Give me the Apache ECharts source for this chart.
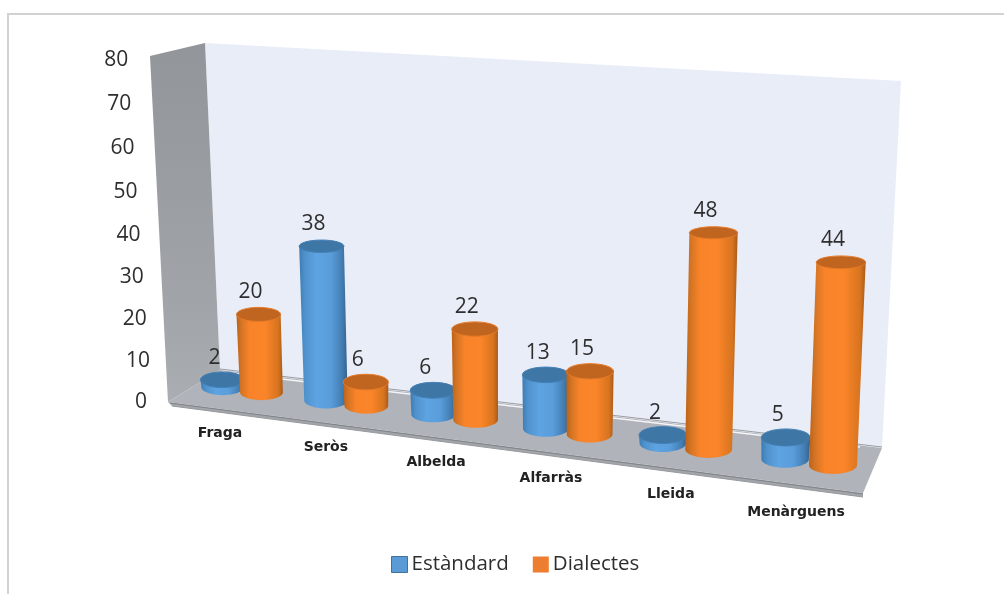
<!DOCTYPE html>
<html>
<head>
<meta charset="utf-8">
<style>html,body{margin:0;padding:0;background:#fff;overflow:hidden;}#c{width:1004px;height:594px;filter:blur(0.45px);}</style>
<script src="https://cdn.jsdelivr.net/npm/echarts@6/dist/echarts.min.js"></script>
</head>
<body>
<div id="c"></div>
<script>
const categories = ['Fraga', 'Seròs', 'Albelda', 'Alfarràs', 'Lleida', 'Menàrguens'];
const estandard = [2, 38, 6, 13, 2, 5];
const dialectes = [20, 6, 22, 15, 48, 44];
const yTicks = [0, 10, 20, 30, 40, 50, 60, 70, 80];

const FONT = '"Open Sans", "Noto Sans", sans-serif';
const TEXT = '#2e2e2e';
const G = { left: 168, top: 56, width: 695, height: 346 };
const YMAX = 80;

// perspective of the 3D floor: category position -> screen x, floor line, vertical scale
function persX(i) { return 242 + 101.96 * i / (1 - 0.02017 * i); }
function floorY(x) { return 392 + 0.1276 * (x - 260); }
function unitPx(x) { return 4.02 + 0.58 * (x - 260) / 572; }
function heightPx(val, x) { return 0.94 * val * unitPx(x) / (1 - 0.0014 * val); }
function leanOf(x) { return (x - 540) / 300 * 0.04; }
function capRy(y) { return 6 + (y - 230) * 0.012; }

function barRender(side, c) {
  return function (params, api) {
    const i = api.value(0), v = api.value(1);
    const p0 = api.coord([i, 0]), p1 = api.coord([i, v]);
    const band = api.size([1, 0])[0];
    const pos = (p0[0] + side * 0.19 * band - G.left) / band - 0.5;
    const val = (p0[1] - p1[1]) / G.height * YMAX;
    const bx = persX(pos), by = floorY(bx);
    const h = heightPx(val, bx);
    const tx = bx + leanOf(bx) * h, ty = by - h;
    const r = 22 + 2.6 * (bx - 242) / 567;
    const rb = r * 0.97;
    const ryT = capRy(ty), ryB = capRy(by);
    const pts = [[tx - r, ty], [tx + r, ty]];
    for (let k = 0; k <= 24; k++) {
      const a = Math.PI * k / 24;
      pts.push([bx + rb * Math.cos(a), by + ryB * Math.sin(a)]);
    }
    const body = new echarts.graphic.LinearGradient(0, 0, 1, 0, c.body);
    return {
      type: 'group',
      children: [
        { type: 'polygon', shape: { points: pts }, style: { fill: body } },
        { type: 'ellipse', shape: { cx: tx, cy: ty, rx: r, ry: ryT }, style: { fill: c.cap, stroke: c.rim, lineWidth: 1 } },
        { type: 'text', style: { text: String(v), x: tx - 8, y: ty - 22, fill: TEXT, fontSize: 21, fontFamily: FONT, align: 'center', verticalAlign: 'middle' } }
      ]
    };
  };
}

const blueStyle = {
  body: [{ offset: 0, color: '#3d7cb3' }, { offset: 0.12, color: '#4f92cc' }, { offset: 0.35, color: '#5ea3e2' }, { offset: 0.65, color: '#5a9ddb' }, { offset: 0.88, color: '#437eb3' }, { offset: 1, color: '#33618c' }],
  cap: '#3e76a6', rim: '#4380b5'
};
const orangeStyle = {
  body: [{ offset: 0, color: '#bb6119' }, { offset: 0.1, color: '#d27424' }, { offset: 0.28, color: '#f98329' }, { offset: 0.62, color: '#fb8529' }, { offset: 0.9, color: '#d7741f' }, { offset: 1, color: '#a95a1a' }],
  cap: '#c0651f', rim: '#e67a28'
};

function tickRender(params, api) {
  const v = api.value(1);
  const p = api.coord([0, v]);
  const val = (G.top + G.height - p[1]) / G.height * YMAX;
  const w = val / 10;
  return {
    type: 'text',
    style: { text: String(v), x: 141 - val * 0.31, y: 402 - 41 * w / (1 - 0.0051 * w), fill: TEXT, fontSize: 21, fontFamily: FONT, align: 'center', verticalAlign: 'middle' }
  };
}

function catRender(params, api) {
  const i = api.value(0);
  const p = api.coord([i, 0]);
  const band = api.size([1, 0])[0];
  const pos = (p[0] - G.left) / band - 0.5;
  const x = persX(pos) - 22 + 9 * pos / 5;
  return {
    type: 'text',
    style: { text: categories[i], x: x, y: 433 + 0.137 * (x - 220), fill: '#222222', fontSize: 14, fontWeight: 'bold', fontFamily: '"DejaVu Sans", sans-serif', align: 'center', verticalAlign: 'middle' }
  };
}

function poly(points, style, z) { return { type: 'polygon', shape: { points: points }, style: style, z: z, silent: true }; }
function line(points, stroke, w, z) { return { type: 'polyline', shape: { points: points }, style: { stroke: stroke, lineWidth: w, fill: null }, z: z, silent: true }; }

const chart = echarts.init(document.getElementById('c'));
chart.setOption({
  animation: false,
  backgroundColor: '#ffffff',
  grid: { left: G.left, top: G.top, width: G.width, height: G.height },
  xAxis: { type: 'category', data: categories, show: false },
  yAxis: { type: 'value', min: 0, max: YMAX, interval: 10, show: false },
  legend: {
    left: 386, top: 549, itemWidth: 16, itemHeight: 16, itemGap: 24,
    data: [
      { name: 'Estàndard', icon: 'rect', itemStyle: { color: '#5b9bd5', borderColor: '#41719c', borderWidth: 1 } },
      { name: 'Dialectes', icon: 'rect', itemStyle: { color: '#ed7d31', borderWidth: 0 } }
    ],
    textStyle: { fontSize: 20.5, fontFamily: FONT, color: TEXT, padding: [0, 0, 0, -1] }
  },
  graphic: [
    line([[8, 594], [8, 14], [1004, 14]], '#d2d2d2', 2, 0),
    poly([[205, 43], [901, 81], [882, 448], [220, 370]], { fill: '#e9edf8' }, 0),
    poly([[150, 56], [205, 43], [220, 370], [168, 402]], {
      fill: new echarts.graphic.LinearGradient(0, 0, 0, 1, [{ offset: 0, color: '#929599' }, { offset: 0.7, color: '#a0a3a7' }, { offset: 1, color: '#aaadb1' }])
    }, 1),
    poly([[168, 402], [220, 370], [882, 448], [863, 493]], { fill: '#b0b3b9' }, 1),
    line([[220, 369], [882, 447]], '#9a9da3', 1, 1),
    line([[222, 372], [860, 447]], '#f4f5f8', 1.5, 1),
    poly([[168, 402], [863, 493], [863, 497], [172, 406]], { fill: '#a2a5aa' }, 1),
    line([[170, 403], [863, 494]], '#808388', 1, 1),
    line([[172, 406], [863, 497]], '#96999e', 1, 1)
  ],
  series: [
    { type: 'custom', name: 'ticks', coordinateSystem: 'cartesian2d', silent: true, renderItem: tickRender, encode: { x: 0, y: 1 }, data: yTicks.map(v => [0, v]) },
    { type: 'custom', name: 'cats', coordinateSystem: 'cartesian2d', silent: true, renderItem: catRender, encode: { x: 0, y: 1 }, data: categories.map((c, i) => [i, 0]) },
    { type: 'custom', name: 'Estàndard', coordinateSystem: 'cartesian2d', silent: true, renderItem: barRender(-1, blueStyle), encode: { x: 0, y: 1 }, itemStyle: { color: '#5b9bd5' }, data: estandard.map((v, i) => [i, v]) },
    { type: 'custom', name: 'Dialectes', coordinateSystem: 'cartesian2d', silent: true, renderItem: barRender(1, orangeStyle), encode: { x: 0, y: 1 }, itemStyle: { color: '#ed7d31' }, data: dialectes.map((v, i) => [i, v]) }
  ]
});
</script>
</body>
</html>
